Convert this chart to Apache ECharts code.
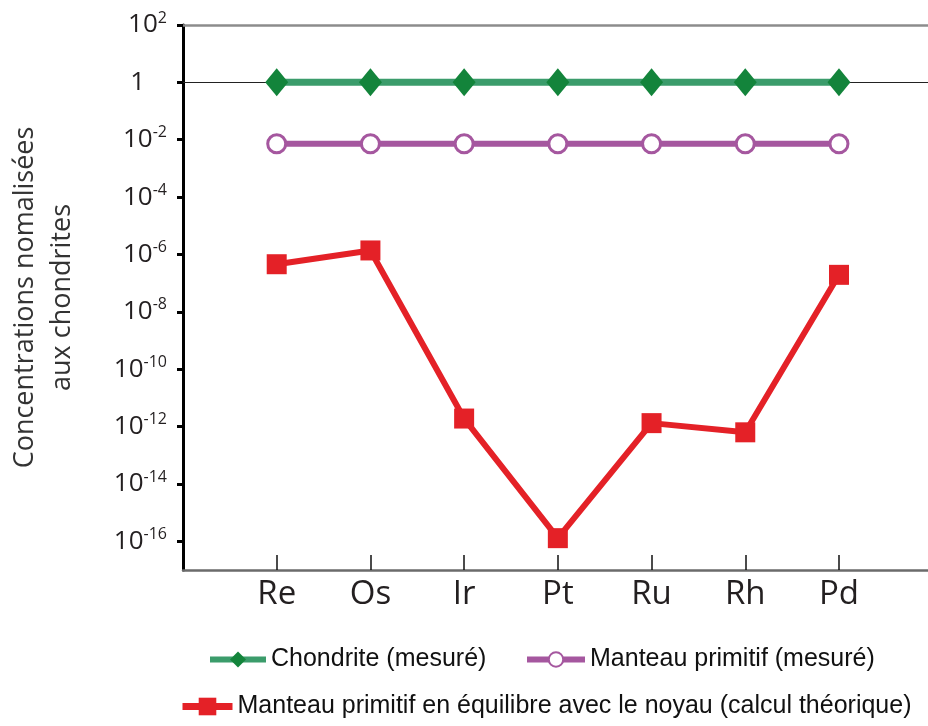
<!DOCTYPE html>
<html>
<head>
<meta charset="utf-8">
<script src="https://cdn.jsdelivr.net/npm/echarts@6/dist/echarts.min.js"></script>
<style>
  html, body { margin: 0; padding: 0; background: #fff; }
  #main { width: 928px; height: 726px; }
</style>
</head>
<body>
<div id="main"></div>
<script>
// elements (x axis)
var elements = ['Re', 'Os', 'Ir', 'Pt', 'Ru', 'Rh', 'Pd'];
// log10 of concentration normalised to chondrites
var chondriteLog = [0, 0, 0, 0, 0, 0, 0];
var manteauLog = [-2.14, -2.14, -2.14, -2.14, -2.14, -2.14, -2.14];
var equilibreLog = [-6.34, -5.86, -11.72, -15.89, -11.88, -12.2, -6.71];
// y tick exponents
var yTicks = [-16, -14, -12, -10, -8, -6, -4, -2, 0, 2];

var seriesNames = [
    'Chondrite (mesuré)',
    'Manteau primitif (mesuré)',
    'Manteau primitif en équilibre avec le noyau (calcul théorique)'
];

function pairs(arr) {
    return arr.map(function (v, i) { return [i, v]; });
}

var chart = echarts.init(document.getElementById('main'));

var legendText = { fontFamily: 'Liberation Sans', fontSize: 25, color: '#111' };

var option = {
    animation: false,
    grid: { left: 183, right: 0, top: 25, bottom: 156, containLabel: false, outerBoundsMode: 'none' },
    legend: [
        { data: [seriesNames[0]], left: 207, top: 647, padding: 0, itemWidth: 56, itemHeight: 20, itemGap: 0, textStyle: legendText, selectedMode: false,
          lineStyle: { width: 6 } },
        { data: [seriesNames[1]], left: 524, top: 647, padding: 0, itemWidth: 58, itemHeight: 18, textStyle: legendText, selectedMode: false,
          lineStyle: { width: 6 } },
        { data: [seriesNames[2]], left: 179, top: 694, padding: 0, itemWidth: 50, itemHeight: 22, textStyle: legendText, selectedMode: false,
          lineStyle: { width: 7 } }
    ],
    xAxis: {
        type: 'value',
        min: -1,
        max: 6.95,
        axisLine: { show: true, onZero: false, lineStyle: { color: '#6b6b6b', width: 2.5 } },
        axisTick: { show: true, inside: true, length: 15, customValues: [0, 1, 2, 3, 4, 5, 6], lineStyle: { color: '#111', width: 1.5 } },
        axisLabel: {
            customValues: [0, 1, 2, 3, 4, 5, 6],
            margin: 8,
            fontFamily: 'Open Sans',
            fontSize: 33,
            color: '#231f20',
            formatter: function (v) { return elements[v]; }
        },
        splitLine: { show: false }
    },
    yAxis: {
        type: 'value',
        min: -17,
        max: 2,
        name: 'Concentrations nomalisées\naux chondrites',
        nameLocation: 'middle',
        nameRotate: 90,
        nameGap: 102,
        nameTextStyle: { fontFamily: 'Open Sans', fontSize: 27, color: '#333', lineHeight: 37 },
        axisLine: { show: true, onZero: false, lineStyle: { color: '#000', width: 3 } },
        axisTick: { show: true, length: 6, customValues: yTicks, lineStyle: { color: '#000', width: 3 } },
        axisLabel: {
            customValues: yTicks,
            margin: 16,
            color: '#231f20',
            formatter: function (v) {
                if (v === 0) return '{one|1}';
                return '{b|10}{s|' + v + '}';
            },
            rich: {
                one: { fontFamily: 'Open Sans', fontSize: 26, lineHeight: 30, padding: [0, 22, 0, 0], color: '#231f20' },
                b: { fontFamily: 'Open Sans', fontSize: 26, lineHeight: 30, color: '#231f20' },
                s: { fontFamily: 'Open Sans', fontSize: 16, lineHeight: 16, verticalAlign: 'top', color: '#231f20' }
            }
        },
        splitLine: { show: false }
    },
    series: [
        {
            name: seriesNames[0],
            type: 'line',
            data: pairs(chondriteLog),
            symbol: 'diamond',
            symbolSize: [23, 28],
            lineStyle: { color: '#3b9c6b', width: 7 },
            itemStyle: { color: '#13843b', borderWidth: 0 },
            z: 3,
            markLine: {
                silent: true,
                symbol: 'none',
                label: { show: false },
                z: 1,
                data: [
                    { yAxis: 0, lineStyle: { color: '#222', width: 1.2, type: 'solid' } },
                    { yAxis: 2, lineStyle: { color: '#8c8c8c', width: 2.5, type: 'solid' } }
                ]
            }
        },
        {
            name: seriesNames[1],
            type: 'line',
            data: pairs(manteauLog),
            symbol: 'circle',
            symbolSize: 18,
            showAllSymbol: true,
            lineStyle: { color: '#a5579f', width: 6 },
            itemStyle: { color: '#fff', borderColor: '#a5579f', borderWidth: 3 },
            z: 3
        },
        {
            name: seriesNames[2],
            type: 'line',
            data: pairs(equilibreLog),
            symbol: 'rect',
            symbolSize: 20,
            lineStyle: { color: '#e42127', width: 6 },
            itemStyle: { color: '#e42127' },
            z: 4
        }
    ]
};

chart.setOption(option);
</script>
</body>
</html>
